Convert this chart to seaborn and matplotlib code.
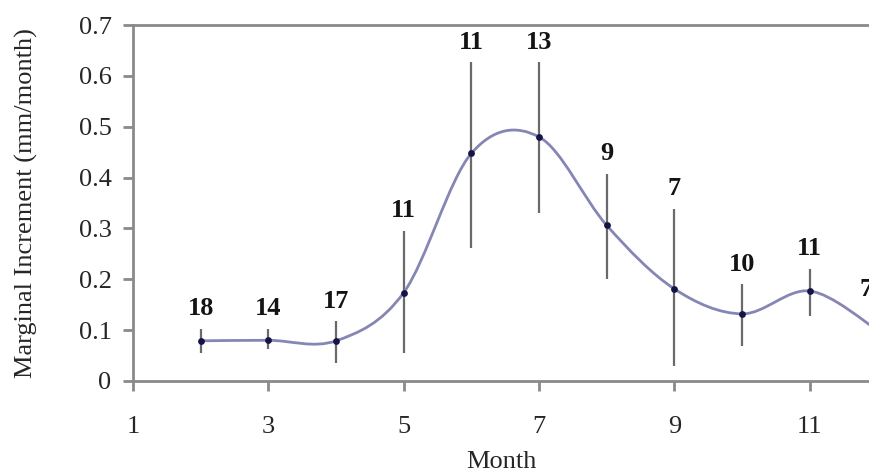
import numpy as np
import pandas as pd
import matplotlib
matplotlib.use("Agg")
import matplotlib.pyplot as plt
from matplotlib.path import Path
from matplotlib.patches import PathPatch
import seaborn as sns

# Monthly marginal increment with range bars and sample sizes
months = [2, 3, 4, 5, 6, 7, 8, 9, 10, 11, 12]
mean_mi = [0.079, 0.080, 0.079, 0.174, 0.448, 0.480, 0.306, 0.181, 0.132, 0.177, 0.100]
upper_mi = [0.103, 0.103, 0.118, 0.296, 0.627, 0.627, 0.408, 0.339, 0.191, 0.221, 0.140]
lower_mi = [0.055, 0.063, 0.036, 0.055, 0.262, 0.331, 0.201, 0.030, 0.069, 0.128, 0.060]
n_samples = [18, 14, 17, 11, 11, 13, 9, 7, 10, 11, 7]
x_ticks = [1, 3, 5, 7, 9, 11]
y_ticks = [0, 0.1, 0.2, 0.3, 0.4, 0.5, 0.6, 0.7]

df = pd.DataFrame({"month": months, "mi": mean_mi, "hi": upper_mi,
                   "lo": lower_mi, "n": n_samples})

sns.set_theme(style="white")
plt.rcParams["font.family"] = ["Liberation Serif", "DejaVu Serif"]

fig = plt.figure(figsize=(8.7, 4.75), dpi=100)
ax = fig.add_axes([0.153, 0.198, 0.847, 0.749])

spine_col = "#8a8a8a"
curve_col = "#8686b4"
bar_col = "#6a6a6a"
dot_col = "#141446"
text_col = "#262626"

# range bars
ax.vlines(df["month"], df["lo"], df["hi"], color=bar_col, lw=1.6, zorder=2)

# smoothed line through the means (cardinal Bezier segments)
pts = np.column_stack([df["month"], df["mi"]])
verts = [tuple(pts[0])]
codes = [Path.MOVETO]
for i in range(len(pts) - 1):
    p0 = pts[i - 1] if i > 0 else pts[i]
    p1 = pts[i]
    p2 = pts[i + 1]
    p3 = pts[i + 2] if i + 2 < len(pts) else pts[i + 1]
    c1 = p1 + (p2 - p0) / 6.0
    c2 = p2 - (p3 - p1) / 6.0
    verts += [tuple(c1), tuple(c2), tuple(p2)]
    codes += [Path.CURVE4] * 3
ax.add_patch(PathPatch(Path(verts, codes), fill=False, edgecolor=curve_col,
                       lw=2.0, zorder=3))

sns.scatterplot(data=df, x="month", y="mi", ax=ax, color=dot_col, s=24,
                edgecolor=dot_col, linewidth=0, zorder=4, legend=False)

# sample sizes above each bar
for m, h, n in zip(df["month"], df["hi"], df["n"]):
    xt = m if m < 12 else 11.83
    ax.annotate(str(n), (xt, h), xytext=(0, 6), textcoords="offset points",
                ha="center", va="bottom", fontsize=19, fontweight="bold",
                color="#141414", annotation_clip=False)

ax.set_xlim(1, 11.89)
ax.set_ylim(0, 0.7)
ax.set_xticks(x_ticks)
ax.set_yticks(y_ticks)
ax.set_xticklabels([str(t) for t in x_ticks])
ax.set_yticklabels(["0"] + [f"{t:.1f}" for t in y_ticks[1:]])

for side in ["left", "bottom", "top"]:
    ax.spines[side].set_visible(True)
    ax.spines[side].set_color(spine_col)
    ax.spines[side].set_linewidth(2.0)
ax.spines["right"].set_visible(False)

ax.tick_params(axis="y", direction="out", length=7.5, width=2, color=spine_col,
               labelsize=19, pad=8, left=True, labelcolor=text_col)
ax.tick_params(axis="x", direction="out", length=7.5, width=2, color=spine_col,
               labelsize=19, pad=18, bottom=True, labelcolor=text_col)

ax.set_xlabel("Month", fontsize=19, color=text_col, labelpad=9)
ax.set_ylabel("Marginal Increment (mm/month)", fontsize=19, color=text_col,
              labelpad=29)
ax.grid(False)

fig.savefig("out.png", dpi=100)
